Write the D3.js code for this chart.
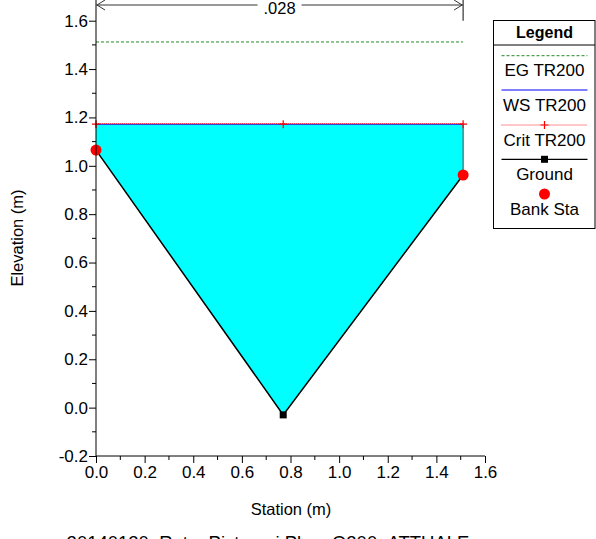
<!DOCTYPE html>
<html>
<head>
<meta charset="utf-8">
<script src="https://cdn.jsdelivr.net/npm/d3@7"></script>
<style>
  html, body { margin: 0; padding: 0; background: #fff; }
  svg { display: block; font-family: "Liberation Sans", Arial, sans-serif; }
</style>
</head>
<body>
<svg id="chart" width="596" height="539"></svg>
<script>
// Cross-section geometry (station, elevation)
const groundStation = [0.0, 0.77, 1.51];
const groundElev = [1.065, -0.03, 0.962];
const bankStation = [0.0, 1.51];
const bankElev = [1.065, 0.962];
const wsElev = 1.172;      // WS TR200
const critElev = 1.172;    // Crit TR200
const egElev = 1.512;      // EG TR200
const critStations = [0.0, 0.77, 1.51];
const manningLabel = ".028";
const xTicks = [0, 0.2, 0.4, 0.6, 0.8, 1.0, 1.2, 1.4, 1.6];
const yTicks = [-0.2, 0, 0.2, 0.4, 0.6, 0.8, 1.0, 1.2, 1.4, 1.6];
const legendNames = ["EG TR200", "WS TR200", "Crit TR200", "Ground", "Bank Sta"];
const titleText = "20140120_Roto_Pistoresi        Plan: Q200_ATTUALE";

const svg = d3.select("#chart");
const x = d3.scaleLinear().domain([0, 1.6]).range([96, 485]);
const y = d3.scaleLinear().domain([-0.2, 1.6]).range([456, 20.7]);
const fontSize = 17;
const fmt = d => d.toFixed(1); // plain hyphen for negatives

const ground = groundStation.map((s, i) => [s, groundElev[i]]);
const sMin = groundStation[0], sMax = groundStation[groundStation.length - 1];

// Water area below WS
const waterPoly = [[sMin, wsElev]].concat(ground, [[sMax, wsElev]]);
svg.append("path")
  .attr("d", d3.line().x(d => x(d[0])).y(d => y(d[1]))(waterPoly) + "Z")
  .attr("fill", "#00ffff").attr("stroke", "none");

// Right wall edge from bank to water surface
svg.append("line")
  .attr("x1", x(sMax)).attr("x2", x(sMax))
  .attr("y1", y(bankElev[1])).attr("y2", y(wsElev))
  .attr("stroke", "#3a8c8c").attr("stroke-width", 1.5);

// EG line
svg.append("line")
  .attr("x1", x(sMin)).attr("x2", x(sMax)).attr("y1", y(egElev)).attr("y2", y(egElev))
  .attr("stroke", "#238b23").attr("stroke-width", 1).attr("stroke-dasharray", "3,2");

// WS line
svg.append("line")
  .attr("x1", x(sMin)).attr("x2", x(sMax)).attr("y1", y(wsElev)).attr("y2", y(wsElev))
  .attr("stroke", "#0000ff").attr("stroke-width", 1);

// Crit line (dotted red with + markers)
svg.append("line")
  .attr("x1", x(sMin)).attr("x2", x(sMax)).attr("y1", y(critElev) - 0.5).attr("y2", y(critElev) - 0.5)
  .attr("stroke", "#ff2020").attr("stroke-width", 1).attr("stroke-dasharray", "1,1");
critStations.forEach(s => {
  const cx = x(s), cy = y(critElev);
  svg.append("path").attr("d", `M${cx - 4},${cy}H${cx + 4}M${cx},${cy - 4}V${cy + 4}`)
    .attr("stroke", "#ff0000").attr("stroke-width", 1.2);
});

// Ground line
svg.append("path")
  .attr("d", d3.line().x(d => x(d[0])).y(d => y(d[1]))(ground))
  .attr("fill", "none").attr("stroke", "#000").attr("stroke-width", 1.5);
// Ground marker at the thalweg
const low = ground.reduce((a, b) => (b[1] < a[1] ? b : a));
svg.append("rect")
  .attr("x", x(low[0]) - 3.5).attr("y", y(low[1]) - 3.5)
  .attr("width", 7).attr("height", 7).attr("fill", "#000");

// Bank stations
svg.selectAll("circle.bank").data(bankStation).enter().append("circle")
  .attr("cx", d => x(d)).attr("cy", (d, i) => y(bankElev[i]))
  .attr("r", 5.5).attr("fill", "#ff0000");

// Axes
const axisColor = "#000";
const yTop = 0;
svg.append("line").attr("x1", x(0)).attr("x2", x(0)).attr("y1", yTop).attr("y2", y(-0.2))
  .attr("stroke", axisColor).attr("stroke-width", 1);
svg.append("line").attr("x1", x(0)).attr("x2", x(1.6)).attr("y1", y(-0.2)).attr("y2", y(-0.2))
  .attr("stroke", axisColor).attr("stroke-width", 1);

const xAxis = d3.axisBottom(x).tickValues(xTicks).tickFormat(fmt).tickSize(7).tickSizeOuter(0);
const gx = svg.append("g").attr("transform", `translate(0,${y(-0.2)})`).call(xAxis);
gx.select(".domain").remove();
gx.selectAll("text").attr("font-size", fontSize).attr("font-family", "Liberation Sans, Arial, sans-serif")
  .attr("y", 6).attr("dy", "0.95em").attr("fill", "#000");
const xMinor = d3.range(0.1, 1.6, 0.2);
svg.selectAll("line.xminor").data(xMinor).enter().append("line")
  .attr("x1", d => x(d)).attr("x2", d => x(d)).attr("y1", y(-0.2)).attr("y2", y(-0.2) + 4)
  .attr("stroke", axisColor);

const yAxis = d3.axisLeft(y).tickValues(yTicks).tickFormat(fmt).tickSize(7).tickSizeOuter(0);
const gy = svg.append("g").attr("transform", `translate(${x(0)},0)`).call(yAxis);
gy.select(".domain").remove();
gy.selectAll("text").attr("font-size", fontSize).attr("font-family", "Liberation Sans, Arial, sans-serif")
  .attr("x", -8).attr("fill", "#000");
const yMinor = d3.range(-0.1, 1.7, 0.2);
svg.selectAll("line.yminor").data(yMinor).enter().append("line")
  .attr("x1", x(0) - 4).attr("x2", x(0)).attr("y1", d => y(d)).attr("y2", d => y(d))
  .attr("stroke", axisColor);

// Axis titles
svg.append("text").attr("x", 291).attr("y", 515).attr("text-anchor", "middle")
  .attr("font-size", 16.5).text("Station (m)");
svg.append("text").attr("transform", "translate(23,238) rotate(-90)").attr("text-anchor", "middle")
  .attr("font-size", 16.5).text("Elevation (m)");

// Plot title (partly below the visible area)
svg.append("text").attr("x", 268).attr("y", 549).attr("text-anchor", "middle")
  .attr("font-size", 18.5).text(titleText);

// Manning's n span indicator
const ay = 5;
svg.append("line").attr("x1", x(sMin)).attr("x2", x(sMax)).attr("y1", ay).attr("y2", ay)
  .attr("stroke", "#333").attr("stroke-width", 1);
svg.append("path").attr("d", `M${x(sMin) + 9},${ay - 5}L${x(sMin) + 1},${ay}L${x(sMin) + 9},${ay + 5}`)
  .attr("fill", "none").attr("stroke", "#333");
svg.append("path").attr("d", `M${x(sMax) - 9},${ay - 5}L${x(sMax) - 1},${ay}L${x(sMax) - 9},${ay + 5}`)
  .attr("fill", "none").attr("stroke", "#333");
svg.append("line").attr("x1", x(sMax)).attr("x2", x(sMax)).attr("y1", 0).attr("y2", 20.7)
  .attr("stroke", "#333").attr("stroke-width", 1.2);
const nx = (x(sMin) + x(sMax)) / 2;
svg.append("rect").attr("x", nx - 22).attr("y", 0).attr("width", 44).attr("height", 15).attr("fill", "#fff");
svg.append("text").attr("x", nx).attr("y", 13.5).attr("text-anchor", "middle")
  .attr("font-size", 16.5).text(manningLabel);

// Legend
const lg = svg.append("g");
const lx0 = 493.5, lx1 = 595, ly0 = 20.5, ly1 = 228.5;
lg.append("rect").attr("x", lx0).attr("y", ly0).attr("width", lx1 - lx0).attr("height", ly1 - ly0)
  .attr("fill", "#fff").attr("stroke", "#000").attr("stroke-width", 1);
lg.append("line").attr("x1", lx0).attr("x2", lx1).attr("y1", 45).attr("y2", 45).attr("stroke", "#000");
lg.append("text").attr("x", 544.5).attr("y", 38).attr("text-anchor", "middle")
  .attr("font-size", 16).attr("font-weight", "bold").text("Legend");
const sx0 = 501.5, sx1 = 587.5, scx = 544.5;
const rowY = [55.7, 90, 125, 159.3, 194];
// EG
lg.append("line").attr("x1", sx0).attr("x2", sx1).attr("y1", rowY[0]).attr("y2", rowY[0])
  .attr("stroke", "#238b23").attr("stroke-dasharray", "3,2");
// WS
lg.append("line").attr("x1", sx0).attr("x2", sx1).attr("y1", rowY[1]).attr("y2", rowY[1])
  .attr("stroke", "#0000ff");
// Crit
lg.append("line").attr("x1", sx0).attr("x2", sx1).attr("y1", rowY[2]).attr("y2", rowY[2])
  .attr("stroke", "#ff2020").attr("stroke-dasharray", "1,1");
lg.append("path").attr("d", `M${scx - 4},${rowY[2]}H${scx + 4}M${scx},${rowY[2] - 4}V${rowY[2] + 4}`)
  .attr("stroke", "#ff0000").attr("stroke-width", 1.2);
// Ground
lg.append("line").attr("x1", sx0).attr("x2", sx1).attr("y1", rowY[3]).attr("y2", rowY[3])
  .attr("stroke", "#000").attr("stroke-width", 1.2);
lg.append("rect").attr("x", scx - 3.5).attr("y", rowY[3] - 3.5).attr("width", 7).attr("height", 7).attr("fill", "#000");
// Bank Sta
lg.append("circle").attr("cx", scx).attr("cy", rowY[4]).attr("r", 5.5).attr("fill", "#ff0000");
lg.selectAll("text.name").data(legendNames).enter().append("text")
  .attr("x", scx).attr("y", (d, i) => rowY[i] + 20.5).attr("text-anchor", "middle")
  .attr("font-size", fontSize).text(d => d);
</script>
</body>
</html>
